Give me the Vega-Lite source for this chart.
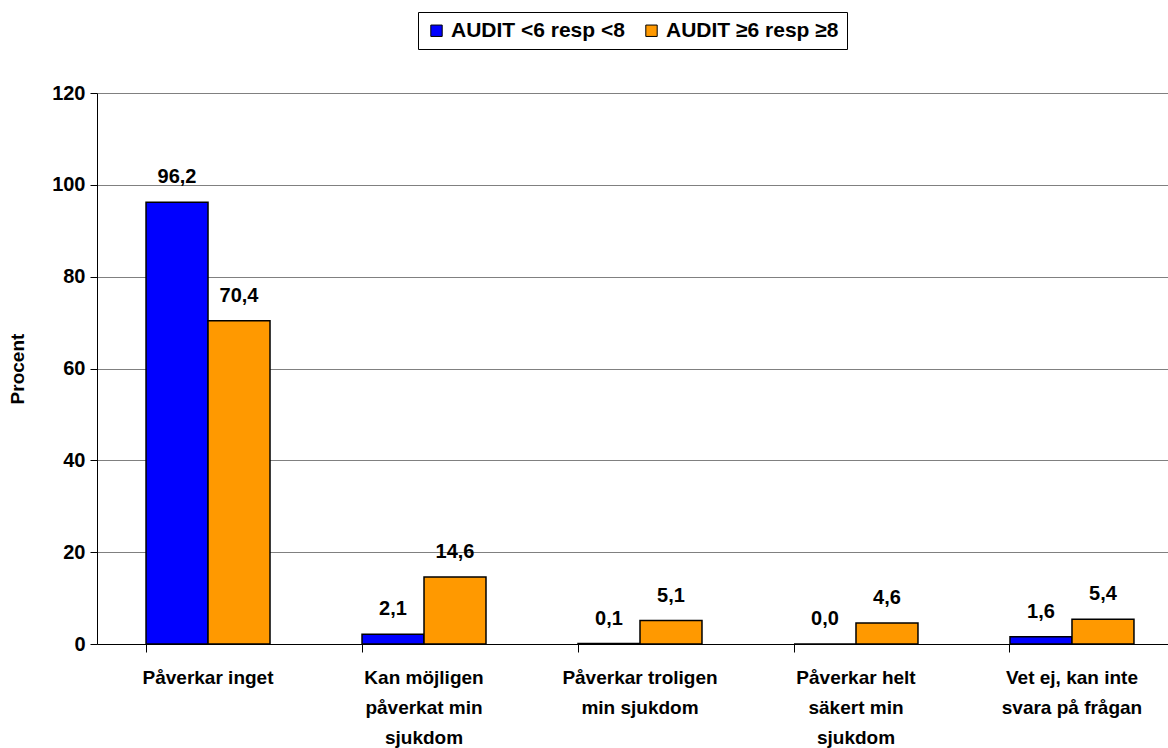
{
  "$schema": "https://vega.github.io/schema/vega-lite/v6.json",
  "width": 1086,
  "height": 551,
  "autosize": "none",
  "padding": {"left": 97, "top": 93, "right": 0, "bottom": 104},
  "background": "white",
  "config": {
    "view": {"stroke": null},
    "font": "Liberation Sans",
    "locale": {"number": {"decimal": ",", "thousands": " ", "grouping": [3], "currency": ["", " kr"]}}
  },
  "data": {
    "values": [
      {"svar": "Påverkar inget", "grupp": "AUDIT <6 resp <8", "procent": 96.2},
      {"svar": "Påverkar inget", "grupp": "AUDIT ≥6 resp ≥8", "procent": 70.4},
      {"svar": "Kan möjligen påverkat min sjukdom", "grupp": "AUDIT <6 resp <8", "procent": 2.1},
      {"svar": "Kan möjligen påverkat min sjukdom", "grupp": "AUDIT ≥6 resp ≥8", "procent": 14.6},
      {"svar": "Påverkar troligen min sjukdom", "grupp": "AUDIT <6 resp <8", "procent": 0.1},
      {"svar": "Påverkar troligen min sjukdom", "grupp": "AUDIT ≥6 resp ≥8", "procent": 5.1},
      {"svar": "Påverkar helt säkert min sjukdom", "grupp": "AUDIT <6 resp <8", "procent": 0.0},
      {"svar": "Påverkar helt säkert min sjukdom", "grupp": "AUDIT ≥6 resp ≥8", "procent": 4.6},
      {"svar": "Vet ej, kan inte svara på frågan", "grupp": "AUDIT <6 resp <8", "procent": 1.6},
      {"svar": "Vet ej, kan inte svara på frågan", "grupp": "AUDIT ≥6 resp ≥8", "procent": 5.4}
    ]
  },
  "encoding": {
    "x": {
      "field": "svar",
      "type": "nominal",
      "sort": null,
      "scale": {"paddingInner": 0.426, "paddingOuter": 0.227},
      "axis": {
        "title": null,
        "labelAngle": 0,
        "bandPosition": 0,
        "domainColor": "black",
        "domainWidth": 1,
        "tickColor": "black",
        "tickSize": 8,
        "labelFont": "Liberation Sans",
        "labelFontWeight": "bold",
        "labelFontSize": 19,
        "labelColor": "black",
        "labelBaseline": "top",
        "labelPadding": 16,
        "labelLineHeight": 30,
        "labelExpr": "datum.label == 'Kan möjligen påverkat min sjukdom' ? ['Kan möjligen', 'påverkat min', 'sjukdom'] : datum.label == 'Påverkar troligen min sjukdom' ? ['Påverkar troligen', 'min sjukdom'] : datum.label == 'Påverkar helt säkert min sjukdom' ? ['Påverkar helt', 'säkert min', 'sjukdom'] : datum.label == 'Vet ej, kan inte svara på frågan' ? ['Vet ej, kan inte', 'svara på frågan'] : datum.label"
      }
    },
    "xOffset": {"field": "grupp", "type": "nominal", "sort": null},
    "y": {
      "field": "procent",
      "type": "quantitative",
      "scale": {"domain": [0, 120], "nice": false},
      "axis": {
        "title": "Procent",
        "titleFont": "Liberation Sans",
        "titleFontWeight": "bold",
        "titleFontSize": 19,
        "titleColor": "black",
        "titlePadding": 24,
        "values": [0, 20, 40, 60, 80, 100, 120],
        "grid": true,
        "gridColor": "#808080",
        "gridWidth": 1,
        "domainColor": "black",
        "tickColor": "black",
        "tickSize": 7,
        "labelFont": "Liberation Sans",
        "labelFontWeight": "bold",
        "labelFontSize": 20,
        "labelColor": "black",
        "labelPadding": 5
      }
    }
  },
  "layer": [
    {
      "mark": {"type": "bar", "stroke": "black", "strokeWidth": 1.5},
      "encoding": {
        "color": {
          "field": "grupp",
          "type": "nominal",
          "sort": null,
          "scale": {"domain": ["AUDIT <6 resp <8", "AUDIT ≥6 resp ≥8"], "range": ["#0000FF", "#FF9900"]},
          "legend": {
            "title": null,
            "orient": "none",
            "legendX": 321,
            "legendY": -81,
            "direction": "horizontal",
            "strokeColor": "black",
            "padding": 8,
            "columnPadding": 16,
            "symbolType": "square",
            "symbolSize": 130,
            "symbolStrokeColor": "black",
            "symbolStrokeWidth": 1,
            "symbolOpacity": 1,
            "labelFont": "Liberation Sans",
            "labelFontWeight": "bold",
            "labelFontSize": 21,
            "labelColor": "black",
            "labelLimit": 300
          }
        }
      }
    },
    {
      "mark": {"type": "text", "baseline": "alphabetic", "dy": -19, "fontWeight": "bold", "fontSize": 20, "font": "Liberation Sans", "color": "black"},
      "encoding": {"text": {"field": "procent", "type": "quantitative", "format": ".1f"}}
    }
  ]
}
